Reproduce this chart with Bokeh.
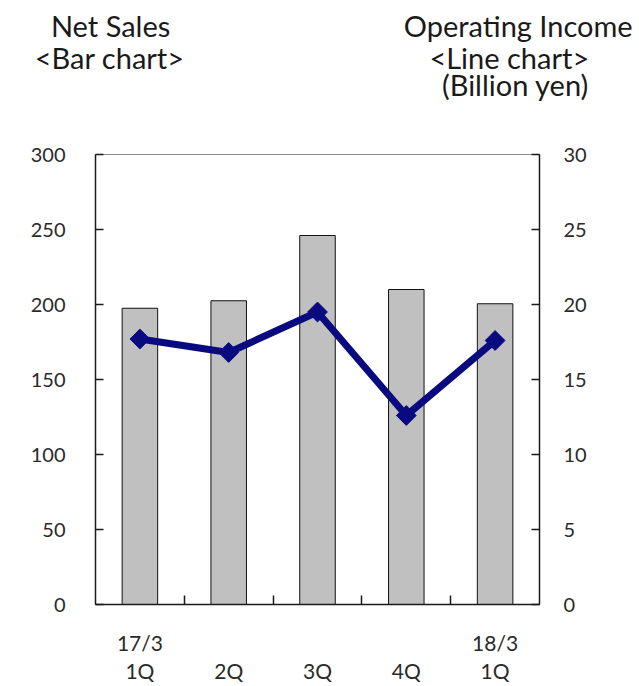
import numpy as np
from bokeh.plotting import figure
from bokeh.models import Range1d, LinearAxis, FixedTicker, ColumnDataSource
from bokeh.embed import file_html
from bokeh.resources import INLINE

# Quarterly results (billion yen)
quarters = ["1Q", "2Q", "3Q", "4Q", "1Q"]
fiscal_years = ["17/3", "", "", "", "18/3"]
net_sales = [197.5, 202.5, 246.0, 210.0, 200.5]
operating_income = [17.7, 16.8, 19.5, 12.6, 17.6]

sales_ticks = [0, 50, 100, 150, 200, 250, 300]
income_ticks = [0, 5, 10, 15, 20, 25, 30]

# Heading rows above the chart: (text, x position in category units)
heading_row1 = [("Net Sales", 0.17), ("Operating Income", 4.76)]
heading_row2 = [("<Bar chart>", 0.16), ("<Line chart>", 4.66)]
heading_row3 = [("(Billion yen)", 4.73)]

FONT = "Lato"
TEXT = "#1a1a1a"
TICK_TEXT = "#2a2a2a"
AXIS = "#1a1a1a"

xpos = [i + 0.5 for i in range(len(quarters))]
src = ColumnDataSource(dict(x=xpos, sales=net_sales, income=operating_income))

p = figure(width=639, height=686, output_backend="svg", toolbar_location=None,
           x_range=Range1d(0, len(quarters)), y_range=Range1d(0, 300),
           min_border_left=95, min_border_right=100,
           min_border_top=154, min_border_bottom=82)
p.extra_y_ranges = {"income": Range1d(0, 30)}
p.grid.visible = False
p.outline_line_color = "#8a8a8a"
p.outline_line_width = 1

# Net sales bars
p.vbar(x="x", top="sales", width=0.4, bottom=0, source=src,
       fill_color="#c0c0c0", line_color="#111111", line_width=1)

# Operating income line with diamond markers
p.line(x="x", y="income", source=src, y_range_name="income",
       line_color="#0a0a80", line_width=7)
p.scatter(x="x", y="income", source=src, y_range_name="income",
          marker="square", angle=np.pi / 4, size=14,
          fill_color="#0a0a80", line_color="#0a0a80")


def style_value_axis(ax, ticks, standoff):
    ax.ticker = FixedTicker(ticks=ticks)
    ax.minor_tick_line_color = None
    ax.major_tick_in = 8
    ax.major_tick_out = 0
    ax.axis_line_color = AXIS
    ax.axis_line_width = 1.5
    ax.major_tick_line_color = AXIS
    ax.major_tick_line_width = 1.5
    ax.major_label_standoff = standoff
    ax.major_label_text_font = FONT
    ax.major_label_text_font_size = "20px"
    ax.major_label_text_color = TICK_TEXT


def text_axis(labels, positions, side, standoff, size):
    ax = LinearAxis()
    ax.ticker = FixedTicker(ticks=list(positions))
    ax.major_label_overrides = {pos: lab for pos, lab in zip(positions, labels)}
    ax.axis_line_color = None
    ax.major_tick_line_color = None
    ax.minor_tick_line_color = None
    ax.major_tick_in = 0
    ax.major_tick_out = 0
    ax.major_label_standoff = standoff
    ax.major_label_text_font = FONT
    ax.major_label_text_font_size = size
    ax.major_label_text_color = TEXT if side == "above" else TICK_TEXT
    p.add_layout(ax, side)
    return ax


# Left axis: net sales; right axis: operating income
style_value_axis(p.yaxis[0], sales_ticks, 30)
right = LinearAxis(y_range_name="income")
style_value_axis(right, income_ticks, 24)
p.add_layout(right, "right")

# Bottom axis: fiscal year labels under the bars, separator ticks between quarters
xa = p.xaxis[0]
xa.ticker = FixedTicker(ticks=xpos, minor_ticks=[1, 2, 3, 4])
xa.major_label_overrides = {pos: lab for pos, lab in zip(xpos, fiscal_years)}
xa.major_tick_line_color = None
xa.major_tick_in = 0
xa.major_tick_out = 0
xa.minor_tick_in = 9
xa.minor_tick_out = 0
xa.minor_tick_line_color = AXIS
xa.minor_tick_line_width = 1.5
xa.axis_line_color = AXIS
xa.axis_line_width = 1.5
xa.major_label_standoff = 25
xa.major_label_text_font = FONT
xa.major_label_text_font_size = "21px"
xa.major_label_text_color = TICK_TEXT

# Quarter labels
text_axis(quarters, xpos, "below", 0, "21px")

# Headings, innermost row first
for row, standoff in ((heading_row3, 53), (heading_row2, -11), (heading_row1, -6)):
    text_axis([t for t, _ in row], [x for _, x in row], "above", standoff, "29px")

open("out.html", "w").write(file_html(p, INLINE))
